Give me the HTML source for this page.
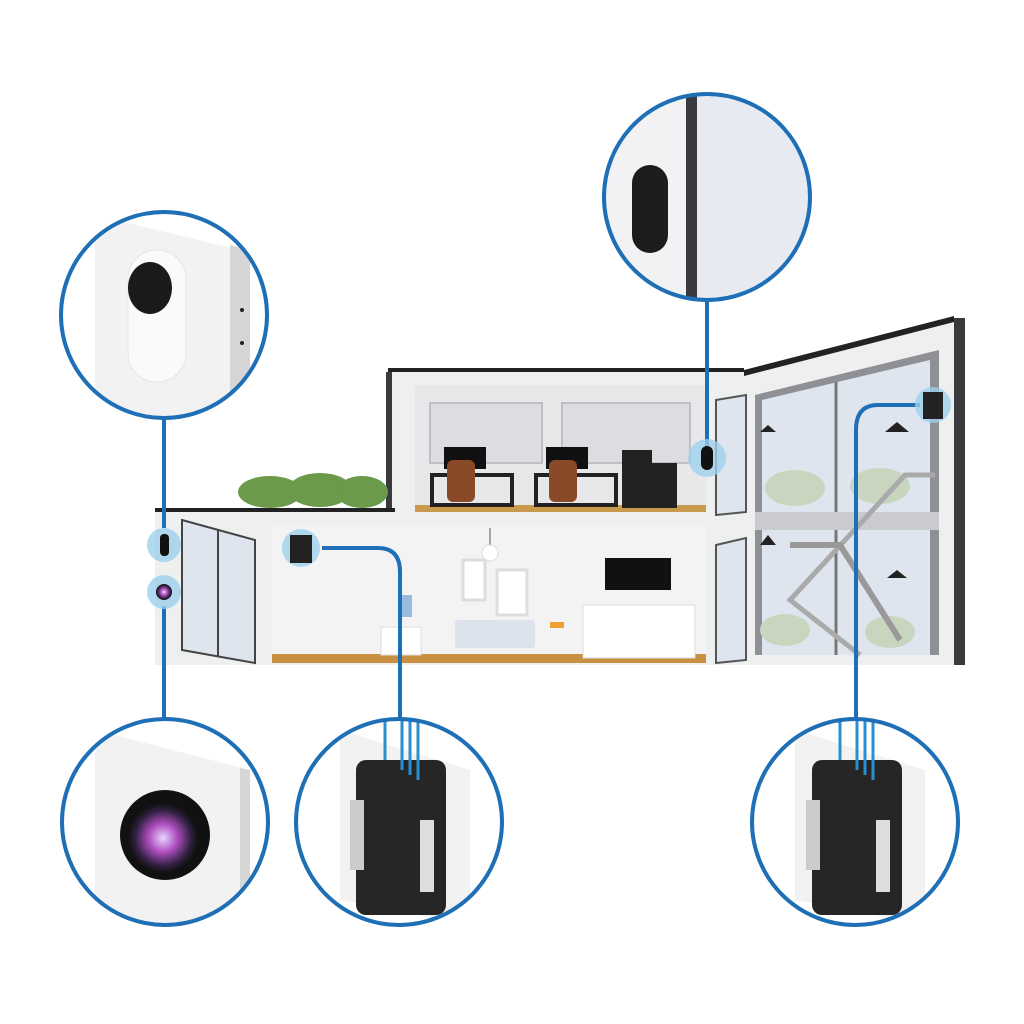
<!DOCTYPE html>
<html><head><meta charset="utf-8"><style>html,body{margin:0;padding:0;background:#fff}svg{display:block}</style></head>
<body>
<svg width="1024" height="1024" viewBox="0 0 1024 1024" xmlns="http://www.w3.org/2000/svg">
<defs>
<clipPath id="c1"><circle cx="164" cy="315" r="103"/></clipPath>
<clipPath id="c2"><circle cx="707" cy="197" r="103"/></clipPath>
<clipPath id="c3"><circle cx="165" cy="822" r="103"/></clipPath>
<clipPath id="c4"><circle cx="399" cy="822" r="103"/></clipPath>
<clipPath id="c5"><circle cx="855" cy="822" r="103"/></clipPath>
<radialGradient id="lens" cx="50%" cy="50%" r="50%"><stop offset="0" stop-color="#e8d8ff"/><stop offset="0.4" stop-color="#b050c0"/><stop offset="0.8" stop-color="#302040"/><stop offset="1" stop-color="#111"/></radialGradient>
</defs>

<!-- House: right tall section -->
<polygon points="744,372 954,318 965,318 965,665 715,665 715,372" fill="#eef0f0"/>
<polygon points="744,370 954,316 954,322 744,376" fill="#222"/>
<rect x="954" y="318" width="11" height="347" fill="#3a3a3e"/>
<polygon points="755,395 939,350 939,655 755,655" fill="#8e9096"/>
<polygon points="762,400 930,360 930,512 762,512" fill="#dfe5ee"/>
<rect x="762" y="530" width="168" height="125" fill="#dfe5ee"/>
<line x1="836" y1="382" x2="836" y2="512" stroke="#777" stroke-width="3"/>
<line x1="836" y1="530" x2="836" y2="655" stroke="#777" stroke-width="3"/>
<rect x="755" y="512" width="184" height="18" fill="#c9cbcf"/>
<ellipse cx="795" cy="488" rx="30" ry="18" fill="#c8d6c0"/>
<ellipse cx="880" cy="486" rx="30" ry="18" fill="#c8d6c0"/>
<ellipse cx="785" cy="630" rx="25" ry="16" fill="#c8d6c0"/>
<ellipse cx="890" cy="632" rx="25" ry="16" fill="#c8d6c0"/>
<polygon points="768,425 760,432 776,432" fill="#222"/>
<polygon points="897,422 885,432 909,432" fill="#222"/>
<polygon points="768,535 760,545 776,545" fill="#222"/>
<polygon points="897,570 887,578 907,578" fill="#222"/>
<polyline points="935,475 905,475 790,600 860,655" fill="none" stroke="#aaa" stroke-width="5"/>
<polyline points="790,545 840,545 900,640" fill="none" stroke="#999" stroke-width="6"/>
<rect x="715" y="512" width="40" height="18" fill="#eef0f0"/>
<polygon points="716,400 746,395 746,512 716,515" fill="#dfe5ee" stroke="#555" stroke-width="2"/>
<polygon points="716,545 746,538 746,660 716,663" fill="#dfe5ee" stroke="#555" stroke-width="2"/>

<!-- upper office block -->
<rect x="389" y="372" width="326" height="141" fill="#eef0f0"/>
<rect x="388" y="368" width="356" height="4" fill="#222"/>
<rect x="386" y="372" width="6" height="141" fill="#3a3a3e"/>
<rect x="415" y="385" width="291" height="127" fill="#e8e8ea"/>
<rect x="430" y="403" width="112" height="60" fill="#dcdde0" stroke="#c0c0c4" stroke-width="2"/>
<rect x="562" y="403" width="128" height="60" fill="#dcdde0" stroke="#c0c0c4" stroke-width="2"/>
<rect x="415" y="505" width="291" height="7" fill="#c89a4e"/>
<rect x="444" y="447" width="42" height="22" fill="#111"/>
<rect x="546" y="447" width="42" height="22" fill="#111"/>
<rect x="432" y="475" width="80" height="30" fill="none" stroke="#222" stroke-width="4"/>
<rect x="536" y="475" width="80" height="30" fill="none" stroke="#222" stroke-width="4"/>
<rect x="447" y="460" width="28" height="42" rx="6" fill="#8a4a28"/>
<rect x="549" y="460" width="28" height="42" rx="6" fill="#8a4a28"/>
<rect x="622" y="450" width="30" height="58" fill="#222"/>
<rect x="652" y="463" width="25" height="45" fill="#222"/>

<!-- bushes & lower roof -->
<ellipse cx="270" cy="492" rx="32" ry="16" fill="#6a9a4a"/>
<ellipse cx="320" cy="490" rx="32" ry="17" fill="#6a9a4a"/>
<ellipse cx="362" cy="492" rx="26" ry="16" fill="#6a9a4a"/>
<rect x="155" y="508" width="240" height="4" fill="#222"/>

<!-- ground floor -->
<rect x="155" y="512" width="560" height="153" fill="#eef0f0"/>
<rect x="272" y="525" width="434" height="138" fill="#f3f3f4"/>
<rect x="272" y="654" width="434" height="9" fill="#c89040"/>
<polygon points="182,520 255,540 255,663 182,650" fill="#dfe5ee" stroke="#444" stroke-width="2"/>
<line x1="218" y1="530" x2="218" y2="656" stroke="#444" stroke-width="2"/>
<rect x="605" y="558" width="66" height="32" fill="#111"/>
<rect x="583" y="605" width="112" height="53" fill="#fff" stroke="#ddd"/>
<rect x="455" y="620" width="80" height="28" rx="3" fill="#dde3ec"/>
<rect x="463" y="560" width="22" height="40" fill="#fff" stroke="#ddd" stroke-width="3"/>
<rect x="497" y="570" width="30" height="45" fill="#fff" stroke="#ddd" stroke-width="3"/>
<line x1="490" y1="528" x2="490" y2="545" stroke="#555"/>
<ellipse cx="490" cy="553" rx="8" ry="8" fill="#fff" stroke="#ddd"/>
<rect x="381" y="627" width="40" height="28" fill="#fff" stroke="#ddd"/>
<rect x="400" y="595" width="12" height="22" fill="#9bd"/>
<rect x="550" y="622" width="14" height="6" fill="#f0a030"/>

<!-- circle contents -->
<g clip-path="url(#c1)">
<polygon points="95,215 240,250 240,430 95,430" fill="#f2f2f2"/>
<polygon points="230,245 250,250 250,430 230,425" fill="#d6d6d6"/>
<rect x="128" y="250" width="58" height="132" rx="29" fill="#fafafa" stroke="#e5e5e5"/>
<ellipse cx="150" cy="288" rx="22" ry="26" fill="#1a1a1a"/>
<circle cx="242" cy="310" r="2" fill="#222"/><circle cx="242" cy="343" r="2" fill="#222"/>
</g>
<g clip-path="url(#c2)">
<rect x="600" y="90" width="220" height="220" fill="#f2f2f4"/>
<rect x="697" y="90" width="120" height="220" fill="#e7ebf1"/>
<rect x="686" y="90" width="11" height="220" fill="#3a3a3e"/>
<rect x="632" y="165" width="36" height="88" rx="18" fill="#1c1c1c"/>
</g>
<g clip-path="url(#c3)">
<polygon points="95,730 250,770 250,925 95,925" fill="#f2f2f2"/>
<polygon points="240,768 250,770 250,925 240,925" fill="#d6d6d6"/>
<ellipse cx="165" cy="835" rx="45" ry="45" fill="#111"/>
<circle cx="163" cy="838" r="35" fill="url(#lens)"/>
</g>
<g clip-path="url(#c4)">
<polygon points="340,730 470,770 470,925 340,900" fill="#f2f2f2"/>
<rect x="356" y="760" width="90" height="155" rx="10" fill="#262626"/>
<rect x="420" y="820" width="14" height="72" fill="#ddd"/>
<rect x="350" y="800" width="14" height="70" fill="#ccc"/>
<g stroke="#2a8fd0" stroke-width="3"><line x1="385" y1="700" x2="385" y2="760"/><line x1="402" y1="700" x2="402" y2="770"/><line x1="410" y1="700" x2="410" y2="775"/><line x1="418" y1="700" x2="418" y2="780"/></g>
</g>
<g clip-path="url(#c5)">
<polygon points="795,730 925,770 925,925 795,900" fill="#f2f2f2"/>
<rect x="812" y="760" width="90" height="155" rx="10" fill="#262626"/>
<rect x="876" y="820" width="14" height="72" fill="#ddd"/>
<rect x="806" y="800" width="14" height="70" fill="#ccc"/>
<g stroke="#2a8fd0" stroke-width="3"><line x1="840" y1="700" x2="840" y2="760"/><line x1="857" y1="700" x2="857" y2="770"/><line x1="865" y1="700" x2="865" y2="775"/><line x1="873" y1="700" x2="873" y2="780"/></g>
</g>

<!-- connectors -->
<g stroke="#1e6fb6" stroke-width="4" fill="none">
<line x1="164" y1="418" x2="164" y2="528"/>
<line x1="164" y1="606" x2="164" y2="719"/>
<line x1="707" y1="300" x2="707" y2="448"/>
<path d="M322,548 H378 Q400,548 400,572 V719"/>
<path d="M920,405 H878 Q856,405 856,430 V719"/>
<circle cx="164" cy="315" r="103"/><circle cx="707" cy="197" r="103"/>
<circle cx="165" cy="822" r="103"/><circle cx="399" cy="822" r="103"/><circle cx="855" cy="822" r="103"/>
</g>
<!-- device highlights -->
<g fill="#9ed0ec" opacity="0.8">
<circle cx="164" cy="545" r="17"/><circle cx="164" cy="592" r="17"/>
<circle cx="707" cy="458" r="19"/><circle cx="301" cy="548" r="19"/><circle cx="933" cy="405" r="18"/>
</g>
<rect x="160" y="534" width="9" height="22" rx="4" fill="#111"/>
<circle cx="164" cy="592" r="8" fill="url(#lens)"/>
<rect x="701" y="446" width="12" height="24" rx="6" fill="#111"/>
<rect x="290" y="535" width="22" height="28" fill="#222"/>
<rect x="923" y="392" width="20" height="27" fill="#222"/>
</svg>
</body></html>
